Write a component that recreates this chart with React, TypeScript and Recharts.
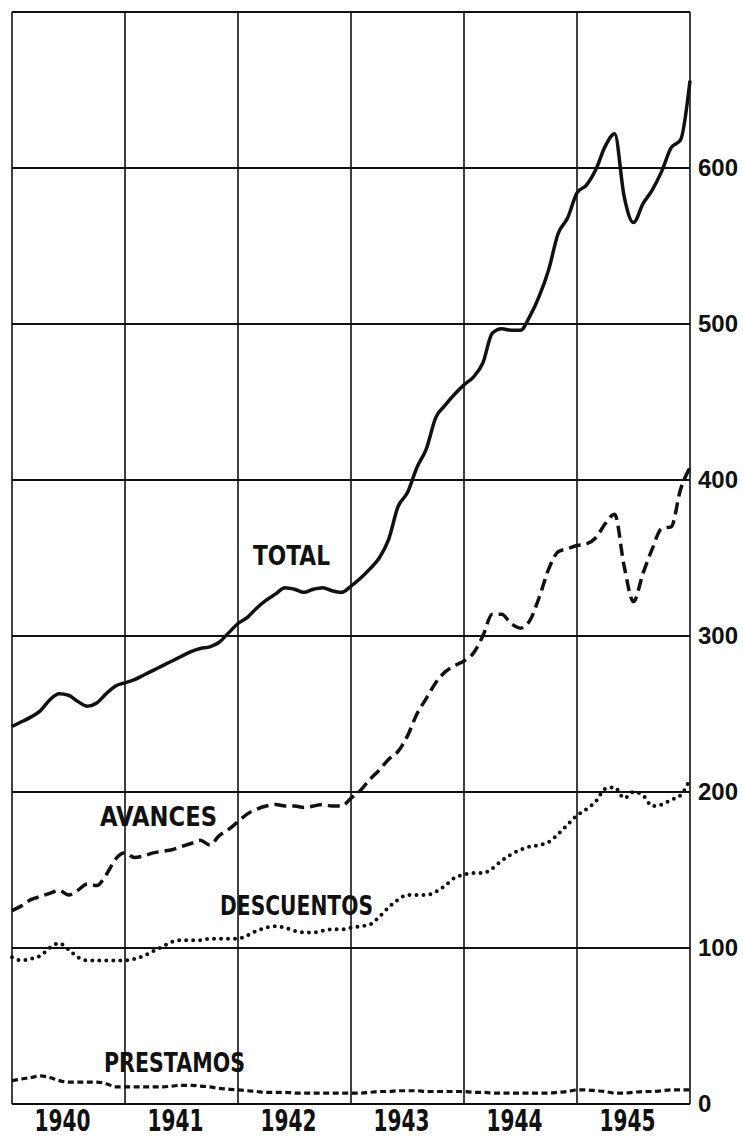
import { LineChart, Line, XAxis, YAxis, CartesianGrid } from 'recharts';

// years shown under the chart, one cell each
const years = ['1940', '1941', '1942', '1943', '1944', '1945'];
const yTicks = [0, 100, 200, 300, 400, 500, 600, 700];

// monthly values, end of Dec 1939 .. end of Dec 1945 (73 points)
const total = [
  242, 245, 248, 252, 259, 263, 262, 258, 255, 257, 263, 268,
  270, 272, 275, 278, 281, 284, 287, 290, 292, 293, 296, 302,
  308, 312, 318, 323, 327, 331, 330, 328, 330, 331, 329, 328,
  332, 337, 343, 350, 362, 383, 392, 408, 420, 440, 448, 455,
  461, 466, 475, 494, 497, 496, 496, 505, 518, 535, 558, 568,
  584, 589, 599, 614, 622, 582, 565, 577, 586, 598, 613, 618,
  656,
];
const avances = [
  124, 127, 131, 133, 135, 137, 134, 137, 141, 140, 147, 157,
  161, 158, 159, 161, 162, 163, 165, 167, 169, 166, 172, 176,
  181, 186, 189, 191, 192, 191, 191, 190, 191, 192, 191, 191,
  196, 201, 208, 214, 221, 226, 236, 250, 260, 270, 277, 281,
  284, 289, 300, 314, 314, 308, 305, 310, 325, 343, 354, 356,
  358, 359, 363, 372, 378, 345, 322, 340, 356, 369, 370, 394,
  408,
];
const descuentos = [
  94, 92, 93, 95, 100, 103, 99, 94, 92, 92, 92, 92,
  92, 93, 95, 98, 101, 104, 105, 105, 105, 106, 106, 106,
  106, 108, 111, 113, 114, 113, 111, 110, 110, 111, 112, 112,
  113, 114, 115, 120, 126, 131, 134, 134, 134, 136, 140, 145,
  147, 148, 148, 151, 156, 160, 163, 165, 166, 168, 173, 179,
  185, 189, 194, 202, 203, 196, 200, 198, 191, 192, 195, 198,
  208,
];
const prestamos = [
  15, 16, 17, 18, 17, 15, 14, 14, 14, 14, 13, 11,
  11, 11, 11, 11, 11, 11.5, 12, 12, 11.5, 11, 10, 9.5,
  9, 8.5, 8, 7.5, 7.5, 7.5, 7, 7, 7, 7, 7, 7,
  7, 7, 7.5, 8, 8, 8.5, 8.5, 8.5, 8, 8, 8, 8,
  8, 7.5, 7.5, 7, 7, 7, 7, 7, 7, 7, 7.5, 8,
  9, 9, 8.5, 8, 7, 7, 7.5, 8, 8, 8.5, 9, 9,
  9,
];

const data = total.map((t, i) => ({
  m: i,
  total: t,
  avances: avances[i],
  descuentos: descuentos[i],
  prestamos: prestamos[i],
}));

const yearBounds = years.map((_, i) => i * 12).concat([years.length * 12]);
const yearMids = years.map((_, i) => i * 12 + 6);

const labelFont = "'DejaVu Sans', sans-serif";

// year labels are tall and narrow in the original, so squeeze them
const YearTick = ({ x, y, payload }: any) => {
  const label = years[(payload.value - 6) / 12];
  return (
    <text x={x - 6} y={y + 19} textAnchor="middle" fill="#111" fontSize={30} fontWeight={700}
      fontFamily={labelFont} textLength={56} lengthAdjust="spacingAndGlyphs">
      {label}
    </text>
  );
};

const ValueTick = ({ x, y, payload }: any) => {
  if (payload.value === 700) return null;
  return (
    <text x={x} y={y + 8} fill="#111" fontSize={24} fontWeight={700}
      fontFamily="'Liberation Sans', Arial, sans-serif">
      {payload.value}
    </text>
  );
};

export default function App() {
  return (
    <div style={{ position: 'absolute', left: 0, top: 0, width: 743, height: 1139, background: '#fff' }}>
      <LineChart width={743} height={1139} data={data} margin={{ top: 12, right: 0, left: 12, bottom: 0 }}>
        <CartesianGrid xAxisId="grid" stroke="#111" strokeWidth={2} vertical={false} />
        <CartesianGrid xAxisId="grid" stroke="#111" strokeWidth={1.6} horizontal={false} />
        {/* hidden axis only used for the year boundaries of the grid */}
        <XAxis xAxisId="grid" dataKey="m" type="number" domain={[0, 72]} ticks={yearBounds} orientation="top" height={0} hide />
        <XAxis
          xAxisId="lab"
          dataKey="m"
          type="number"
          domain={[0, 72]}
          ticks={yearMids}
          height={35}
          tickLine={false}
          axisLine={false}
          tickSize={0}
          tickMargin={8}
          tick={<YearTick />}
        />
        <YAxis
          orientation="right"
          type="number"
          domain={[0, 700]}
          ticks={yTicks}
          width={53}
          tickLine={false}
          axisLine={false}
          tickSize={0}
          tickMargin={8}
          tick={<ValueTick />}
        />
        <Line xAxisId="lab" type="monotone" dataKey="total" stroke="#111" strokeWidth={3.5} dot={false} isAnimationActive={false} />
        <Line xAxisId="lab" type="monotone" dataKey="avances" stroke="#111" strokeWidth={3.5} strokeDasharray="12 6" dot={false} isAnimationActive={false} />
        <Line xAxisId="lab" type="monotone" dataKey="descuentos" stroke="#111" strokeWidth={4} strokeDasharray="0 7" strokeLinecap="round" dot={false} isAnimationActive={false} />
        <Line xAxisId="lab" type="monotone" dataKey="prestamos" stroke="#111" strokeWidth={3.2} strokeDasharray="6 3.5" dot={false} isAnimationActive={false} />
      </LineChart>
      {/* series names written on the plot */}
      <svg width={743} height={1139} style={{ position: 'absolute', left: 0, top: 0, pointerEvents: 'none' }}>
        <g fill="#111" fontWeight={700} fontSize={26} fontFamily={labelFont}>
          <text x={253} y={565} textLength={77} lengthAdjust="spacingAndGlyphs">TOTAL</text>
          <text x={100} y={826} textLength={117} lengthAdjust="spacingAndGlyphs">AVANCES</text>
          <text x={220} y={915} textLength={153} lengthAdjust="spacingAndGlyphs">DESCUENTOS</text>
          <text x={104} y={1072} textLength={141} lengthAdjust="spacingAndGlyphs">PRESTAMOS</text>
        </g>
      </svg>
    </div>
  );
}
